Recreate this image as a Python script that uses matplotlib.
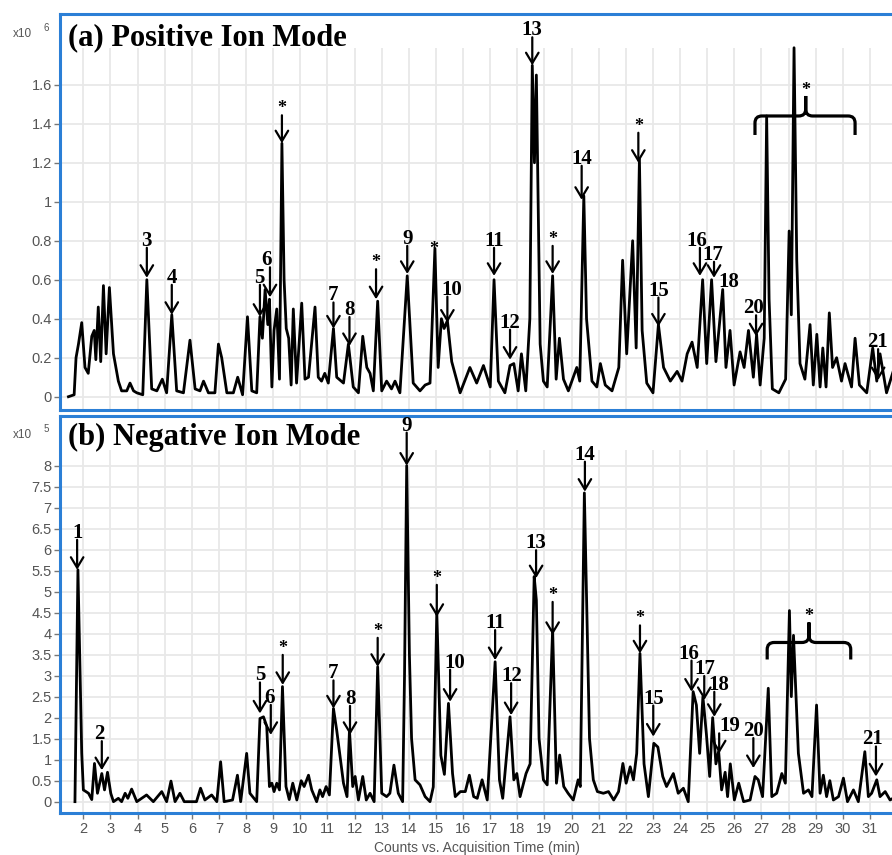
import matplotlib
matplotlib.use('Agg')
import matplotlib.pyplot as plt
from matplotlib.path import Path
from matplotlib.patches import PathPatch
from matplotlib.transforms import IdentityTransform

# ---- positive ion mode trace (x10^6 counts) ----
pos_time = [1.45, 1.66, 1.73, 1.82, 1.94, 2.06, 2.18, 2.31, 2.40, 2.46, 2.55, 2.64, 2.74, 2.84,
            2.96, 3.11, 3.29, 3.41, 3.60, 3.72, 3.85, 3.97, 4.19, 4.34, 4.52, 4.71, 4.91, 5.07,
            5.26, 5.44, 5.69, 5.93, 6.12, 6.30, 6.43, 6.61, 6.85, 6.98, 7.10, 7.29, 7.53, 7.69,
            7.87, 8.05, 8.21, 8.39, 8.51, 8.60, 8.70, 8.80, 8.86, 8.95, 9.03, 9.13, 9.23, 9.32,
            9.40, 9.48, 9.57, 9.66, 9.74, 9.86, 10.05, 10.17, 10.30, 10.54, 10.66, 10.78, 10.90,
            11.03, 11.22, 11.34, 11.59, 11.77, 11.95, 12.14, 12.30, 12.45, 12.57, 12.69, 12.85,
            13.00, 13.18, 13.36, 13.49, 13.67, 13.94, 14.16, 14.41, 14.60, 14.78, 14.96, 15.08,
            15.20, 15.30, 15.42, 15.58, 15.89, 16.25, 16.50, 16.75, 17.00, 17.14, 17.30, 17.54,
            17.73, 17.87, 18.03, 18.15, 18.31, 18.46, 18.55, 18.63, 18.70, 18.84, 18.96, 19.10,
            19.30, 19.43, 19.55, 19.70, 19.88, 20.19, 20.30, 20.45, 20.55, 20.75, 20.93, 21.06,
            21.24, 21.49, 21.74, 21.88, 22.03, 22.25, 22.38, 22.50, 22.60, 22.77, 23.00, 23.20,
            23.39, 23.64, 23.89, 24.07, 24.26, 24.44, 24.63, 24.83, 24.98, 25.16, 25.32, 25.57,
            25.69, 25.84, 25.99, 26.21, 26.36, 26.52, 26.70, 26.82, 26.95, 27.10, 27.19, 27.28,
            27.40, 27.64, 27.89, 28.02, 28.10, 28.20, 28.30, 28.42, 28.60, 28.79, 28.91, 29.04,
            29.16, 29.26, 29.38, 29.50, 29.62, 29.77, 29.95, 30.08, 30.32, 30.45, 30.61, 30.88,
            31.10, 31.25, 31.37, 31.61, 31.90]
pos_counts = [0.0, 0.01, 0.20, 0.27, 0.38, 0.15, 0.12, 0.31, 0.34, 0.19, 0.46, 0.18, 0.57, 0.22,
              0.56, 0.22, 0.08, 0.03, 0.03, 0.07, 0.03, 0.02, 0.01, 0.60, 0.04, 0.03, 0.09, 0.02,
              0.42, 0.03, 0.02, 0.29, 0.04, 0.03, 0.08, 0.02, 0.02, 0.27, 0.20, 0.02, 0.02, 0.10,
              0.01, 0.41, 0.03, 0.02, 0.41, 0.30, 0.55, 0.37, 0.50, 0.05, 0.34, 0.45, 0.09, 1.30,
              0.60, 0.35, 0.30, 0.06, 0.45, 0.07, 0.48, 0.09, 0.10, 0.46, 0.10, 0.08, 0.12,
              0.07, 0.35, 0.10, 0.07, 0.27, 0.05, 0.02, 0.31, 0.15, 0.12, 0.03, 0.49,
              0.03, 0.08, 0.04, 0.08, 0.02, 0.62, 0.07, 0.03, 0.06, 0.07, 0.76, 0.15,
              0.40, 0.35, 0.39, 0.18, 0.02, 0.15, 0.07, 0.16, 0.05, 0.60, 0.08, 0.02,
              0.16, 0.17, 0.03, 0.22, 0.03, 0.40, 1.70, 1.20, 1.65, 0.27, 0.08, 0.05,
              0.62, 0.09, 0.30, 0.09, 0.03, 0.15, 0.08, 1.03, 0.40, 0.08, 0.05, 0.17,
              0.06, 0.03, 0.15, 0.70, 0.22, 0.80, 0.25, 1.22, 0.34, 0.07, 0.02, 0.37,
              0.15, 0.08, 0.13, 0.08, 0.22, 0.28, 0.15, 0.60, 0.17, 0.60, 0.18, 0.55,
              0.15, 0.34, 0.06, 0.23, 0.15, 0.34, 0.10, 0.32, 0.06, 0.30, 1.44, 0.50,
              0.04, 0.02, 0.09, 0.85, 0.42, 1.79, 0.70, 0.17, 0.09, 0.37, 0.06, 0.32,
              0.05, 0.25, 0.05, 0.43, 0.15, 0.20, 0.08, 0.17, 0.05, 0.30, 0.06, 0.02,
              0.25, 0.08, 0.22, 0.02, 0.15]

# ---- negative ion mode trace (x10^5 counts) ----
neg_time = [1.69, 1.80, 1.94, 2.00, 2.19, 2.31, 2.41, 2.52, 2.68, 2.78, 2.89, 3.01, 3.11, 3.29,
            3.41, 3.54, 3.64, 3.78, 3.97, 4.33, 4.58, 4.89, 5.07, 5.23, 5.38, 5.56, 5.72, 6.17,
            6.32, 6.48, 6.73, 6.92, 7.06, 7.19, 7.50, 7.68, 7.80, 8.02, 8.14, 8.39, 8.51, 8.64,
            8.76, 8.86, 8.95, 9.03, 9.13, 9.23, 9.34, 9.47, 9.59, 9.72, 9.87, 10.03, 10.14, 10.30,
            10.42, 10.60, 10.72, 10.82, 10.95, 11.07, 11.22, 11.34, 11.59, 11.72, 11.81, 11.93,
            12.02, 12.14, 12.30, 12.43, 12.57, 12.72, 12.85, 13.00, 13.18, 13.30, 13.45, 13.61,
            13.77, 13.84, 13.92, 14.02, 14.10, 14.23, 14.41, 14.60, 14.78, 14.90, 15.03, 15.18,
            15.31, 15.46, 15.61, 15.71, 15.90, 16.08, 16.23, 16.39, 16.52, 16.70, 16.89, 17.18,
            17.34, 17.46, 17.73, 17.87, 17.98, 18.10, 18.32, 18.47, 18.62, 18.70, 18.80, 18.96,
            19.10, 19.30, 19.44, 19.56, 19.71, 19.87, 20.06, 20.24, 20.32, 20.47, 20.58, 20.66,
            20.80, 20.95, 21.17, 21.36, 21.55, 21.73, 21.89, 22.01, 22.16, 22.28, 22.40, 22.52,
            22.67, 22.83, 23.03, 23.18, 23.36, 23.50, 23.75, 23.93, 24.12, 24.30, 24.48, 24.60,
            24.72, 24.84, 24.97, 25.09, 25.20, 25.32, 25.42, 25.53, 25.66, 25.75, 25.85, 26.00,
            26.16, 26.34, 26.58, 26.76, 26.88, 27.04, 27.25, 27.38, 27.56, 27.75, 27.88, 28.03,
            28.10, 28.18, 28.36, 28.55, 28.73, 28.86, 29.03, 29.16, 29.28, 29.40, 29.52, 29.65,
            29.84, 30.02, 30.17, 30.39, 30.57, 30.81, 30.94, 31.06, 31.25, 31.37, 31.56, 31.74,
            31.90]
neg_counts = [0.0, 5.52, 1.15, 0.28, 0.20, 0.05, 0.91, 0.20, 0.67, 0.28, 0.70, 0.20, 0.0, 0.08,
              0.0, 0.20, 0.08, 0.30, 0.0, 0.16, 0.0, 0.24, 0.0, 0.49, 0.0, 0.20, 0.0, 0.0,
              0.32, 0.04, 0.16, 0.0, 0.95, 0.0, 0.04, 0.63, 0.0, 1.15, 0.20, 0.0, 1.98, 2.02,
              1.80, 0.36, 0.44, 0.24, 0.44, 0.28, 2.74, 0.36, 0.05, 0.44, 0.04, 0.50, 0.36, 0.63,
              0.28, 0.0, 0.28, 0.12, 0.36, 0.16, 2.22, 1.70, 0.44, 0.12, 1.70, 0.36,
              0.60, 0.04, 0.60, 0.04, 0.20, 0.0, 3.21, 0.20, 0.12, 0.20, 0.87, 0.20,
              0.0, 3.00, 8.00, 3.50, 1.50, 0.52, 0.40, 0.12, 0.0, 0.35, 4.50, 1.10,
              0.65, 2.34, 0.67, 0.12, 0.24, 0.24, 0.63, 0.12, 0.08, 0.52, 0.04, 3.33,
              0.52, 0.08, 2.02, 0.52, 0.67, 0.12, 0.67, 0.90, 5.36, 4.80, 1.50, 0.52,
              0.40, 4.10, 0.44, 1.11, 0.36, 0.20, 0.04, 0.52, 0.36, 7.35, 4.00, 1.50,
              0.52, 0.24, 0.20, 0.24, 0.04, 0.24, 0.91, 0.44, 0.83, 0.52, 1.15, 3.53,
              0.90, 0.12, 1.39, 1.30, 0.60, 0.36, 0.67, 0.20, 0.32, 0.0, 2.62, 2.30,
              1.15, 2.50, 1.60, 0.60, 2.00, 0.90, 1.20, 0.28, 0.70, 0.12, 0.90, 0.04,
              0.44, 0.0, 0.04, 0.60, 0.52, 0.12, 2.70, 0.12, 0.20, 0.67, 0.44, 4.55,
              2.50, 3.96, 1.15, 0.20, 0.28, 0.12, 2.30, 0.20, 0.63, 0.12, 0.50, 0.04,
              0.12, 0.56, 0.0, 0.28, 0.0, 1.19, 0.12, 0.20, 0.52, 0.12, 0.24, 0.04,
              0.10]

# peak labels: (text, time, arrow tip, arrow length px, label shift px)
pos_marks = [('*', 9.32, 1.30, 28, 0), ('3', 4.34, 0.61, 30, 0), ('4', 5.26, 0.42, 30, 0),
             ('5', 8.51, 0.41, 32, -1), ('6', 8.88, 0.51, 30, -3), ('7', 11.22, 0.35, 26, 0),
             ('8', 11.81, 0.26, 29, 0), ('*', 12.79, 0.50, 30, 0), ('9', 13.94, 0.63, 28, 0),
             ('10', 15.42, 0.38, 26, 4), ('11', 17.14, 0.62, 28, 0), ('12', 17.73, 0.19, 30, 0),
             ('*', 19.30, 0.63, 28, 0), ('13', 18.55, 1.70, 28, 0), ('14', 20.37, 1.01, 34, 0),
             ('*', 22.46, 1.20, 30, 0), ('15', 23.20, 0.36, 29, 0), ('16', 24.73, 0.62, 28, -3),
             ('17', 25.25, 0.61, 16, -1), ('20', 26.80, 0.31, 21, -3), ('21', 31.30, 0.085, 31, -1)]
pos_free = [('*', 14.93, 0.73), ('18', 25.78, 0.564)]

neg_marks = [('1', 1.77, 5.52, 30, 0), ('2', 2.68, 0.75, 29, -2), ('5', 8.51, 2.10, 31, 0),
             ('6', 8.91, 1.59, 30, -1), ('*', 9.35, 2.78, 30, 0), ('7', 11.22, 2.22, 28, 0),
             ('8', 11.83, 1.59, 29, 0), ('*', 12.85, 3.21, 29, 0), ('9', 13.92, 8.00, 33, 0),
             ('*', 15.03, 4.40, 32, 0), ('10', 15.52, 2.38, 32, 5), ('11', 17.18, 3.37, 30, 0),
             ('12', 17.77, 2.06, 32, 1), ('13', 18.69, 5.32, 28, 0), ('*', 19.30, 3.97, 33, 0),
             ('14', 20.49, 7.38, 30, 0), ('*', 22.52, 3.53, 28, 0), ('15', 23.01, 1.55, 31, 0),
             ('16', 24.42, 2.62, 31, -3), ('17', 24.89, 2.42, 24, 1), ('18', 25.26, 2.02, 25, 5),
             ('19', 25.44, 1.15, 20, 11), ('20', 26.70, 0.80, 30, 0), ('21', 31.22, 0.60, 30, -3)]

# brace over the late-eluting cluster: (left, right, centre, bar level)
pos_brace = (26.76, 30.45, 28.63, 1.44)
neg_brace = (27.21, 30.29, 28.75, 3.79)

x_ticks = list(range(2, 32))
pos_yticks = [0, 0.2, 0.4, 0.6, 0.8, 1.0, 1.2, 1.4, 1.6]
neg_yticks = [0, 0.5, 1, 1.5, 2, 2.5, 3, 3.5, 4, 4.5, 5, 5.5, 6, 6.5, 7, 7.5, 8]

BLUE = '#2b7fd6'
GREY = '#555555'
SERIF = 'Liberation Serif'
SANS = 'Liberation Sans'
PT = 0.72  # points per pixel at 100 dpi

fig = plt.figure(figsize=(8.92, 8.55), dpi=100)
ax_top = fig.add_axes([0.0673, 0.5205, 0.9357, 0.4631])
ax_bot = fig.add_axes([0.0673, 0.0495, 0.9357, 0.4640])


def setup(ax, ylim, ytk, grid_top):
    ax.set_xlim(1.14, 31.91)
    ax.set_ylim(*ylim)
    ax.vlines(x_ticks, ylim[0], grid_top, color='#e8e8e8', lw=1.3, zorder=0)
    for y in ytk:
        ax.axhline(y, color='#e8e8e8', lw=1.3, zorder=0)
    for s in ['left', 'top', 'bottom']:
        ax.spines[s].set_color(BLUE)
        ax.spines[s].set_linewidth(2.2)
    ax.spines['right'].set_visible(False)
    ax.set_yticks(ytk)
    ax.set_yticklabels(['%g' % v for v in ytk], fontfamily=SANS)
    ax.tick_params(axis='y', length=4, width=1, color='#777777', labelcolor=GREY,
                   labelsize=10.5, pad=2)


def marks(ax, items, free):
    for lab, t, tip, L, dx in items:
        ax.annotate('', xy=(t, tip), xytext=(0, L * PT), textcoords='offset points',
                    arrowprops=dict(arrowstyle='->,head_length=0.75,head_width=0.45',
                                    lw=1.6, color='black', shrinkA=0, shrinkB=0,
                                    mutation_scale=10))
        size = 13 if lab == '*' else 15
        ax.annotate(lab, xy=(t, tip), xytext=(dx * PT, (L + 2) * PT),
                    textcoords='offset points', ha='center', va='baseline',
                    fontfamily=SERIF, fontweight='bold', fontsize=size)
    for lab, t, v in free:
        size = 13 if lab == '*' else 15
        ax.text(t, v, lab, ha='center', va='baseline', fontfamily=SERIF,
                fontweight='bold', fontsize=size)


def brace(ax, spec, drop, rise, r=7):
    t0, t1, tc, v = spec
    x0, y = ax.transData.transform((t0, v))
    x1, _ = ax.transData.transform((t1, v))
    xc, _ = ax.transData.transform((tc, v))
    verts, codes = [], []
    for xe, sgn in [(x0, 1), (x1, -1)]:
        verts += [(xe, y - drop), (xe, y - r), (xe, y), (xe + sgn * r, y),
                  (xc - sgn * r, y), (xc, y), (xc, y + r), (xc, y + rise)]
        codes += [Path.MOVETO, Path.LINETO, Path.CURVE3, Path.CURVE3,
                  Path.LINETO, Path.CURVE3, Path.CURVE3, Path.LINETO]
    fig.add_artist(PathPatch(Path(verts, codes), fill=False, lw=2.3, color='black',
                             transform=IdentityTransform(), capstyle='butt'))
    tx, ty = fig.transFigure.inverted().transform((xc, y + rise + 1))
    fig.text(tx, ty, '*', ha='center', va='baseline', fontfamily=SERIF,
             fontweight='bold', fontsize=13)


# top panel
setup(ax_top, (-0.068, 1.963), pos_yticks, 1.788)
ax_top.tick_params(axis='x', bottom=False, labelbottom=False)
ax_top.plot(pos_time, pos_counts, color='black', lw=2.0, zorder=3)
marks(ax_top, pos_marks, pos_free)

# bottom panel
setup(ax_bot, (-0.262, 9.183), neg_yticks, 8.374)
ax_bot.plot(neg_time, neg_counts, color='black', lw=2.0, zorder=3)
ax_bot.set_xticks(x_ticks)
ax_bot.set_xticklabels([str(v) for v in x_ticks], fontfamily=SANS)
ax_bot.tick_params(axis='x', length=4, width=1, color='#777777', labelcolor=GREY,
                   labelsize=10.5, pad=3)
ax_bot.set_xlabel('Counts vs. Acquisition Time (min)', fontfamily=SANS, fontsize=10,
                  color=GREY, labelpad=3)
marks(ax_bot, neg_marks, [])

brace(ax_top, pos_brace, 19, 20)
brace(ax_bot, neg_brace, 17, 20)

# panel titles and scale factors
fig.text(68 / 892, 1 - 45 / 855, '(a) Positive Ion Mode', fontfamily=SERIF,
         fontweight='bold', fontsize=22, va='baseline')
fig.text(68 / 892, 1 - 445 / 855, '(b) Negative Ion Mode', fontfamily=SERIF,
         fontweight='bold', fontsize=22, va='baseline')
for y0, e in [(37, '6'), (438, '5')]:
    fig.text(13 / 892, 1 - y0 / 855, 'x10', fontfamily=SANS, fontsize=8.5, color=GREY,
             va='baseline')
    fig.text(44 / 892, 1 - (y0 - 6) / 855, e, fontfamily=SANS, fontsize=7, color=GREY,
             va='baseline')

fig.savefig('out.png', dpi=100)
